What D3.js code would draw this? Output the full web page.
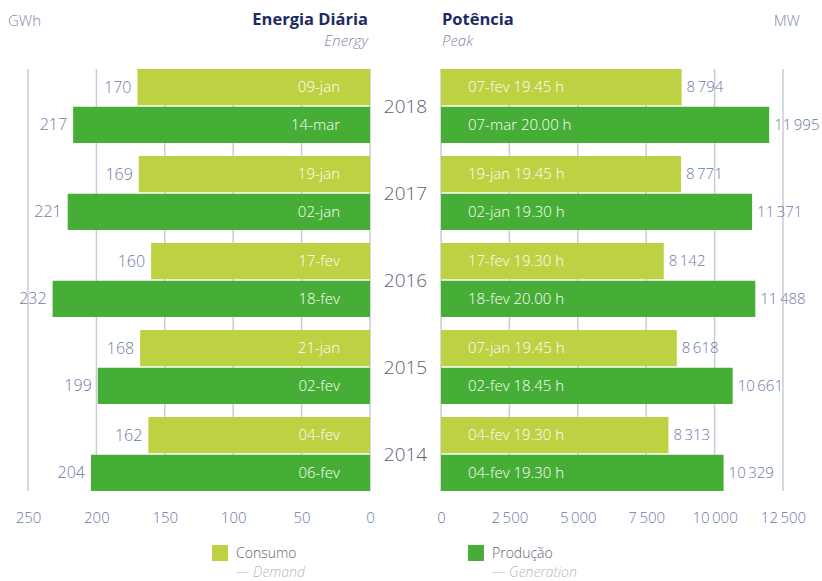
<!DOCTYPE html>
<html>
<head>
  <meta charset="utf-8">
  <title>Energia Diária / Potência</title>
  <script src="https://d3js.org/d3.v7.min.js"></script>
  <style>
    body { margin: 0; background: #fff; }
    svg text { font-family: "Open Sans", "DejaVu Sans", sans-serif; }
  </style>
</head>
<body>
  <div id="chart"></div>

  <script>
    // data
    var years = [2018, 2017, 2016, 2015, 2014];
    var series = ["Consumo", "Produção"];

    var energiaConsumo = [170, 169, 160, 168, 162];
    var energiaProducao = [217, 221, 232, 199, 204];
    var energiaConsumoDia = ["09-jan", "19-jan", "17-fev", "21-jan", "04-fev"];
    var energiaProducaoDia = ["14-mar", "02-jan", "18-fev", "02-fev", "06-fev"];

    var potenciaConsumo = [8794, 8771, 8142, 8618, 8313];
    var potenciaProducao = [11995, 11371, 11488, 10661, 10329];
    var potenciaConsumoDia = ["07-fev 19.45 h", "19-jan 19.45 h", "17-fev 19.30 h", "07-jan 19.45 h", "04-fev 19.30 h"];
    var potenciaProducaoDia = ["07-mar 20.00 h", "02-jan 19.30 h", "18-fev 20.00 h", "02-fev 18.45 h", "04-fev 19.30 h"];

    var energiaTicks = [250, 200, 150, 100, 50, 0];
    var potenciaTicks = [0, 2500, 5000, 7500, 10000, 12500];

    var colors = { "Consumo": "#bdd143", "Produção": "#46ae36" };
    var numColor = "#6c7aa6";
    var gridColor = "#c9cdd6";

    var width = 822, height = 581;

    var svg = d3.select("#chart").append("svg")
      .attr("width", width)
      .attr("height", height);

    // scales
    var xE = d3.scaleLinear().domain([0, 250]).range([370, 28]);
    var xP = d3.scaleLinear().domain([0, 12500]).range([441, 783]);
    var y = d3.scaleBand().domain(years).range([62.5, 497.5]).paddingInner(0.15).paddingOuter(0.075);
    var ySub = d3.scaleBand().domain(series).range([0, y.bandwidth()]).paddingInner(0.04);

    // thousands separated by a thin space
    var fmt = function(v) { return d3.format(",")(v).replace(/,/g, "\u2009"); };

    var rows = years.map(function(yr, i) {
      return [
        { year: yr, s: "Consumo", e: energiaConsumo[i], eDia: energiaConsumoDia[i], p: potenciaConsumo[i], pDia: potenciaConsumoDia[i] },
        { year: yr, s: "Produção", e: energiaProducao[i], eDia: energiaProducaoDia[i], p: potenciaProducao[i], pDia: potenciaProducaoDia[i] }
      ];
    }).flat();

    var gridTop = y(years[0]), gridBottom = y(years[years.length - 1]) + y.bandwidth();

    // gridlines
    svg.append("g").selectAll("line")
      .data(energiaTicks)
      .enter().append("line")
      .attr("x1", function(d) { return xE(d); })
      .attr("x2", function(d) { return xE(d); })
      .attr("y1", gridTop).attr("y2", gridBottom)
      .attr("stroke", gridColor).attr("stroke-width", 1.5);

    svg.append("g").selectAll("line")
      .data(potenciaTicks)
      .enter().append("line")
      .attr("x1", function(d) { return xP(d); })
      .attr("x2", function(d) { return xP(d); })
      .attr("y1", gridTop).attr("y2", gridBottom)
      .attr("stroke", gridColor).attr("stroke-width", 1.5);

    // bars - energia (left, reversed)
    svg.append("g").selectAll("rect")
      .data(rows)
      .enter().append("rect")
      .attr("x", function(d) { return xE(d.e); })
      .attr("y", function(d) { return y(d.year) + ySub(d.s); })
      .attr("width", function(d) { return xE(0) - xE(d.e); })
      .attr("height", ySub.bandwidth())
      .attr("fill", function(d) { return colors[d.s]; });

    // bars - potencia (right)
    svg.append("g").selectAll("rect")
      .data(rows)
      .enter().append("rect")
      .attr("x", xP(0))
      .attr("y", function(d) { return y(d.year) + ySub(d.s); })
      .attr("width", function(d) { return xP(d.p) - xP(0); })
      .attr("height", ySub.bandwidth())
      .attr("fill", function(d) { return colors[d.s]; });

    var mid = function(d) { return y(d.year) + ySub(d.s) + ySub.bandwidth() / 2; };

    // labels inside bars
    svg.append("g").selectAll("text")
      .data(rows)
      .enter().append("text")
      .attr("x", xE(0) - 30)
      .attr("y", mid)
      .attr("dy", "0.35em")
      .attr("text-anchor", "end")
      .attr("fill", "#fff")
      .attr("font-size", 15)
      .attr("font-weight", 300)
      .text(function(d) { return d.eDia; });

    svg.append("g").selectAll("text")
      .data(rows)
      .enter().append("text")
      .attr("x", xP(0) + 27)
      .attr("y", mid)
      .attr("dy", "0.35em")
      .attr("fill", "#fff")
      .attr("font-size", 15)
      .attr("font-weight", 300)
      .text(function(d) { return d.pDia; });

    // value labels
    svg.append("g").selectAll("text")
      .data(rows)
      .enter().append("text")
      .attr("x", function(d) { return xE(d.e) - 6; })
      .attr("y", mid)
      .attr("dy", "0.35em")
      .attr("text-anchor", "end")
      .attr("fill", numColor)
      .attr("font-size", 16)
      .attr("font-weight", 300)
      .text(function(d) { return d.e; });

    svg.append("g").selectAll("text")
      .data(rows)
      .enter().append("text")
      .attr("x", function(d) { return xP(d.p) + 5; })
      .attr("y", mid)
      .attr("dy", "0.35em")
      .attr("fill", numColor)
      .attr("font-size", 15)
      .attr("font-weight", 300)
      .text(function(d) { return fmt(d.p); });

    // year labels in the middle
    svg.append("g").selectAll("text")
      .data(years)
      .enter().append("text")
      .attr("x", (xE(0) + xP(0)) / 2)
      .attr("y", function(d) { return y(d) + y.bandwidth() / 2; })
      .attr("dy", "0.35em")
      .attr("text-anchor", "middle")
      .attr("fill", "#5a6170")
      .attr("font-size", 19)
      .attr("font-weight", 300)
      .text(function(d) { return d; });

    // axes
    var axisE = d3.axisBottom(xE).tickValues(energiaTicks).tickSize(0).tickPadding(0);
    var axisP = d3.axisBottom(xP).tickValues(potenciaTicks).tickSize(0).tickPadding(0).tickFormat(fmt);

    [axisE, axisP].forEach(function(a) {
      var g = svg.append("g")
        .attr("transform", "translate(0,512)")
        .call(a);
      g.select(".domain").remove();
      g.selectAll("text")
        .attr("font-size", 15)
        .attr("font-weight", 300)
        .attr("fill", numColor)
        .attr("font-family", "\"Open Sans\", sans-serif");
    });

    // titles
    svg.append("text").attr("x", 8).attr("y", 26)
      .attr("fill", "#7f8aab").attr("font-size", 15).attr("font-weight", 300).text("GWh");
    svg.append("text").attr("x", 800).attr("y", 26).attr("text-anchor", "end")
      .attr("fill", "#7f8aab").attr("font-size", 15).attr("font-weight", 300).text("MW");

    svg.append("text").attr("x", 368).attr("y", 25).attr("text-anchor", "end")
      .attr("fill", "#1d2b63").attr("font-size", 16.5).attr("font-weight", 700).text("Energia Diária");
    svg.append("text").attr("x", 368).attr("y", 46).attr("text-anchor", "end")
      .attr("fill", "#7f8aab").attr("font-size", 15).attr("font-weight", 300).attr("font-style", "italic").text("Energy");

    svg.append("text").attr("x", 442).attr("y", 25)
      .attr("fill", "#1d2b63").attr("font-size", 16.5).attr("font-weight", 700).text("Potência");
    svg.append("text").attr("x", 442).attr("y", 46)
      .attr("fill", "#7f8aab").attr("font-size", 15).attr("font-weight", 300).attr("font-style", "italic").text("Peak");

    // legend
    var legend = [
      { s: "Consumo", en: "— Demand", x: 212 },
      { s: "Produção", en: "— Generation", x: 468 }
    ];
    var lg = svg.append("g").selectAll("g")
      .data(legend)
      .enter().append("g")
      .attr("transform", function(d) { return "translate(" + d.x + ",545)"; });
    lg.append("rect").attr("width", 16).attr("height", 16)
      .attr("fill", function(d) { return colors[d.s]; });
    lg.append("text").attr("x", 24).attr("y", 13)
      .attr("fill", "#5d6472").attr("font-size", 14).attr("font-weight", 300)
      .text(function(d) { return d.s; });
    lg.append("text").attr("x", 24).attr("y", 32)
      .attr("fill", "#b4b8c0").attr("font-size", 14).attr("font-weight", 300).attr("font-style", "italic")
      .text(function(d) { return d.en; });
  </script>
</body>
</html>
